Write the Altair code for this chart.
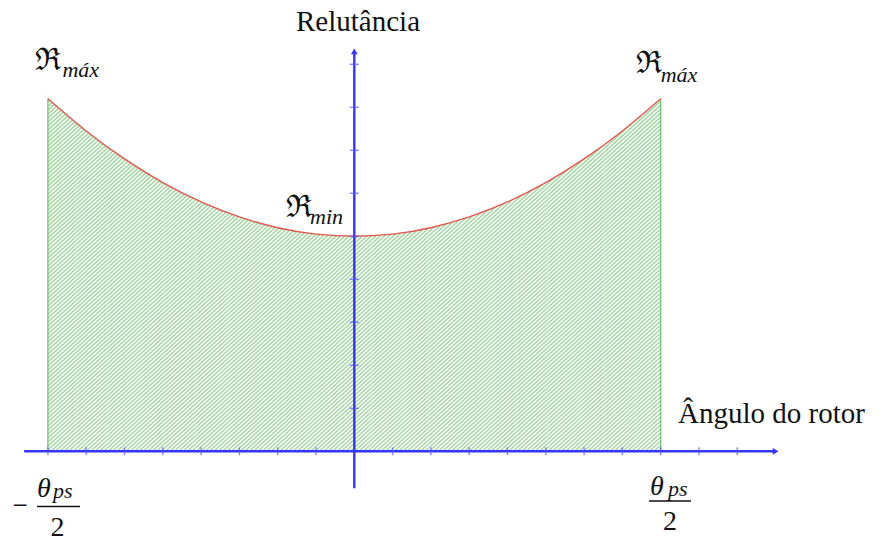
import altair as alt
import pandas as pd

# Reluctance versus rotor angle (angle in tick units, ±8 = ±θps/2)
angle = [-8, -7, -6, -5, -4, -3, -2, -1, 0, 1, 2, 3, 4, 5, 6, 7, 8]
reluctance = [8.2, 7.45, 6.8, 6.25, 5.8, 5.45, 5.2, 5.05, 5.0,
              5.05, 5.2, 5.45, 5.8, 6.25, 6.8, 7.45, 8.2]

x_ticks = [-8, -7, -6, -5, -4, -3, -2, -1, 1, 2, 3, 4, 5, 6, 7, 8, 9, 10]
y_ticks = [1, 2, 3, 4, 5, 6, 7, 8, 9]
x_axis_span = [-8.62, 11.0]
y_axis_span = [-0.86, 9.3]

# ---- layout: pixel geometry of the drawing ----
W_PX, H_PX = 882, 541
ORIGIN_X, ORIGIN_Y = 354.3, 451.3     # where the two axes cross
UX, UY = 38.3, 43.0                   # pixels per tick step

BLUE = "#3535ff"
TICK_BLUE = "#5656ff"
GREEN = "#a2d6a2"
EDGE_GREEN = "#74c174"
RED = "#e0564c"
SERIF = "Liberation Serif"

X_DOM = [-ORIGIN_X / UX, (W_PX - ORIGIN_X) / UX]
Y_DOM = [(ORIGIN_Y - H_PX) / UY, ORIGIN_Y / UY]
x_scale = alt.Scale(domain=X_DOM, nice=False, zero=False)
y_scale = alt.Scale(domain=Y_DOM, nice=False, zero=False)


def xf(field):
    return alt.X(field, scale=x_scale, axis=None)


def yf(field):
    return alt.Y(field, scale=y_scale, axis=None)


def xd(v):
    return alt.XDatum(v, scale=x_scale, axis=None)


def yd(v):
    return alt.YDatum(v, scale=y_scale, axis=None)


curve = pd.DataFrame({"angle": angle, "rel": reluctance})
ends = curve.iloc[[0, -1]]
one = pd.DataFrame({"k": [0]})

a_lo, a_hi = min(angle), max(angle)
r_max, r_min = max(reluctance), min(reluctance)

# ---- diagonal hatching: slanted strokes, then trimmed by white masks ----
hatch_top = r_max + 0.2
rise = hatch_top * UY * 1.1 / UX      # horizontal run of one stroke (in x units)
step = 4.4 / UX                       # stroke spacing, ~4.4 px horizontally
hatch = alt.Chart(
    alt.sequence(start=a_lo - rise - step, stop=a_hi + step, step=step, as_="h0")
).transform_calculate(
    h1=f"datum.h0 + {rise}", v0="0", v1=f"{hatch_top}"
).mark_rule(color=GREEN, strokeWidth=1.5).encode(
    x=xf("h0:Q"), x2="h1:Q", y=yf("v0:Q"), y2="v1:Q"
)

mask_above = alt.Chart(curve).mark_area(interpolate="natural", color="white", opacity=1).encode(
    x=xf("angle:Q"), y=yf("rel:Q"), y2=alt.Y2Datum(Y_DOM[1])
)
mask_left = alt.Chart(one).mark_rect(color="white", opacity=1).encode(
    x=xd(X_DOM[0]), x2=alt.X2Datum(a_lo), y=yd(0), y2=alt.Y2Datum(Y_DOM[1])
)
mask_right = alt.Chart(one).mark_rect(color="white", opacity=1).encode(
    x=xd(a_hi), x2=alt.X2Datum(X_DOM[1]), y=yd(0), y2=alt.Y2Datum(Y_DOM[1])
)
mask_below = alt.Chart(one).mark_rect(color="white", opacity=1).encode(
    x=xd(X_DOM[0]), x2=alt.X2Datum(X_DOM[1]), y=yd(Y_DOM[0]), y2=alt.Y2Datum(0)
)

edges = alt.Chart(ends).mark_rule(color=EDGE_GREEN, strokeWidth=1.3).encode(
    x=xf("angle:Q"), y=yf("rel:Q"), y2=alt.Y2Datum(0)
)

line = alt.Chart(curve).mark_line(interpolate="natural", color=RED, strokeWidth=1.4).encode(
    x=xf("angle:Q"), y=yf("rel:Q")
)

# ---- axes ----
h_axis = alt.Chart(one).mark_rule(color=BLUE, strokeWidth=2.4).encode(
    x=xd(x_axis_span[0]), x2=alt.X2Datum(x_axis_span[1]), y=yd(0)
)
v_axis = alt.Chart(one).mark_rule(color=BLUE, strokeWidth=2.4).encode(
    y=yd(y_axis_span[0]), y2=alt.Y2Datum(y_axis_span[1]), x=xd(0)
)
x_tick_marks = alt.Chart(pd.DataFrame({"t": x_ticks})).mark_tick(
    orient="vertical", size=8, thickness=1.4, color=TICK_BLUE
).encode(x=xf("t:Q"), y=yd(0))
y_tick_marks = alt.Chart(pd.DataFrame({"t": y_ticks})).mark_tick(
    orient="horizontal", size=9, thickness=1.4, color=TICK_BLUE
).encode(y=yf("t:Q"), x=xd(0))

arrow_x = alt.Chart(one).mark_point(shape="triangle-right", filled=True, size=45,
                                    color=BLUE, opacity=1).encode(
    x=xd(x_axis_span[1]), y=yd(0))
arrow_y = alt.Chart(one).mark_point(shape="triangle-up", filled=True, size=45,
                                    color=BLUE, opacity=1).encode(
    x=xd(0), y=yd(y_axis_span[1]))


def label(txt, ax, ay, dx, dy, size, font=SERIF, style="normal", align="left"):
    return alt.Chart(one).mark_text(
        text=txt, dx=dx, dy=dy, fontSize=size, font=font, fontStyle=style,
        align=align, baseline="alphabetic", color="#111111"
    ).encode(x=xd(ax), y=yd(ay))


def bar(ax, ay, left, right, dy):
    return alt.Chart(one).mark_rule(
        color="#111111", strokeWidth=1.4, xOffset=left, x2Offset=right, yOffset=dy
    ).encode(x=xd(ax), x2=alt.X2Datum(ax), y=yd(ay))


FRAK = "DejaVu Serif"
texts = [
    label("Relutância", 0, y_axis_span[1], 3.7, -20.4, 29, align="center"),
    label("Ângulo do rotor", a_hi, 0, 17.3, -28.3, 29),
    # ℜ_máx on the left
    label("ℜ", a_lo, r_max, -12.5, -28.7, 31, font=FRAK),
    label("máx", a_lo, r_max, 14.5, -21.7, 22, style="italic"),
    # ℜ_máx on the right
    label("ℜ", a_hi, r_max, -24.3, -25.7, 31, font=FRAK),
    label("máx", a_hi, r_max, 0, -17.2, 22, style="italic"),
    # ℜ_min at the centre
    label("ℜ", 0, r_min, -68.8, -19.3, 31, font=FRAK),
    label("min", 0, r_min, -44.3, -12.3, 22, style="italic"),
    # -θps/2
    label("−", a_lo, 0, -27.9, 62.5, 27, align="center"),
    label("θ", a_lo, 0, -10.9, 45.7, 28, style="italic"),
    label("ps", a_lo, 0, 5.1, 46.7, 22, style="italic"),
    bar(a_lo, 0, -10.9, 32.1, 55.2),
    label("2", a_lo, 0, 9.6, 85.0, 28, align="center"),
    # θps/2
    label("θ", a_hi, 0, -10.7, 43.7, 28, style="italic"),
    label("ps", a_hi, 0, 7.3, 44.7, 22, style="italic"),
    bar(a_hi, 0, -11.7, 30.3, 49.7),
    label("2", a_hi, 0, 9.3, 79.0, 28, align="center"),
]

chart = alt.layer(
    hatch, mask_above, mask_left, mask_right, mask_below,
    edges, line, h_axis, v_axis, x_tick_marks, y_tick_marks, arrow_x, arrow_y, *texts
).properties(
    width=W_PX, height=H_PX, padding=0,
    autosize=alt.AutoSizeParams(type="none"),
    background="white",
).configure_view(stroke=None)

chart.save("out.html", embed_options={"renderer": "svg", "actions": False})
